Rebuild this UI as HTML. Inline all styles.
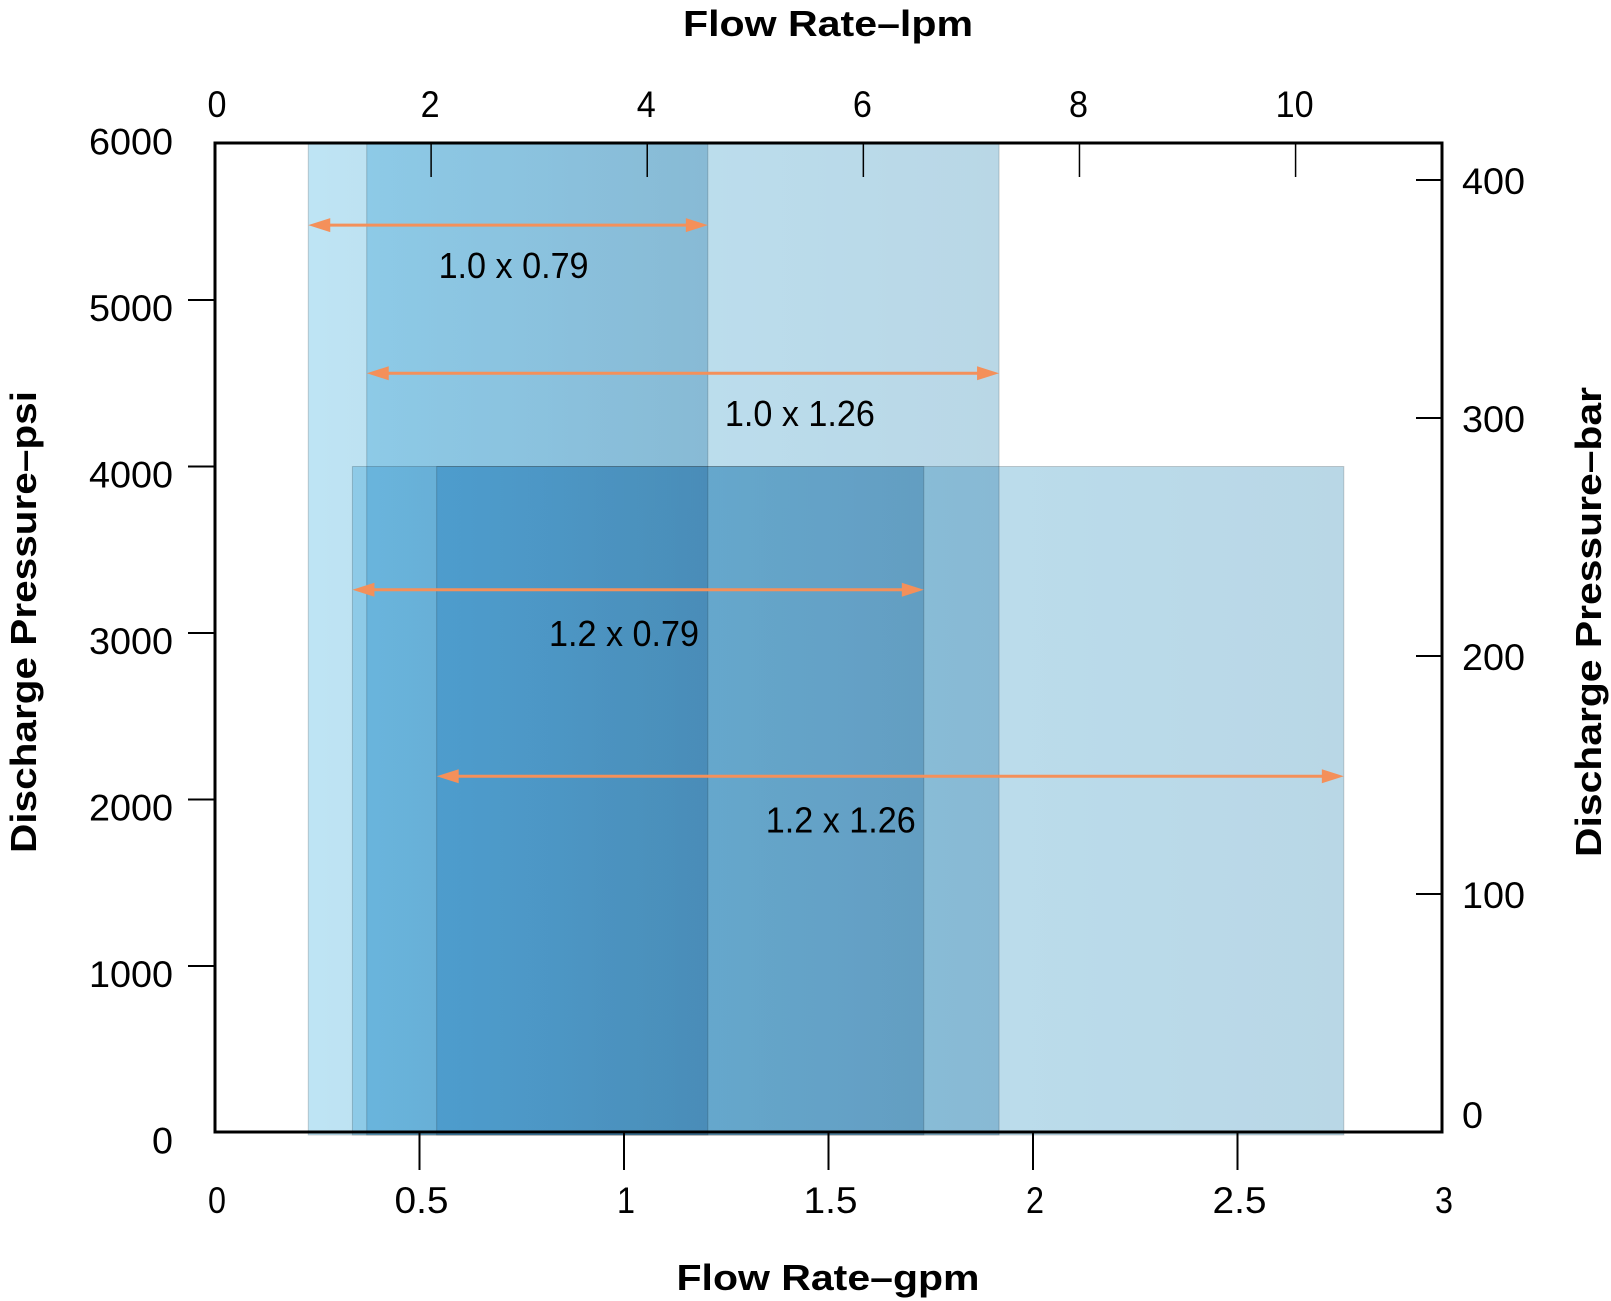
<!DOCTYPE html>
<html><head><meta charset="utf-8"><style>
html,body{margin:0;padding:0;background:#fff;}
svg{display:block;font-family:"Liberation Sans",sans-serif;}
.rect{mix-blend-mode:multiply;}
</style></head><body>
<svg id="chart" width="1611" height="1301" viewBox="0 0 1611 1301">
<defs>
<linearGradient id="fillg" x1="0" y1="0" x2="1" y2="0">
<stop offset="0" stop-color="#bee4f4"/><stop offset="1" stop-color="#b9d7e6"/>
</linearGradient>
</defs>
<g id="rects"></g>
<g id="arrows"></g>
<g id="axes"></g>
</svg>
<script>
const labels = ["1.0 x 0.79","1.0 x 1.26","1.2 x 0.79","1.2 x 1.26"];
const gpmMin = [0.228,0.371,0.336,0.542];
const gpmMax = [1.205,1.917,1.733,2.760];
const psiMax = [6000,6000,4000,4000];
const arrowPsi = [5450,4560,3260,2140];
const labelPsi = [5210,4320,3000,1880];
const labelGpm = [0.73,1.43,1.0,1.53];
const gpmTicks = [0,0.5,1,1.5,2,2.5,3];
const gpmTickLabels = ["0","0.5","1","1.5","2","2.5","3"];
const psiTicks = [0,1000,2000,3000,4000,5000,6000];
const lpmTicks = [0,2,4,6,8,10];
const barTicks = [0,100,200,300,400];

const L=215,R=1442,T=143,B=1132;
const xg = g => L + g*409;
const yp = p => 1132.5 - p*0.1665;
const xl = l => xg(l/3.785);
const yb = b => 1132 - b*2.38;
const NS="http://www.w3.org/2000/svg";
function mk(tag, attrs, parent){const e=document.createElementNS(NS,tag);for(const k in attrs)e.setAttribute(k,attrs[k]);parent.appendChild(e);return e;}
const gr=document.getElementById('rects'), ga=document.getElementById('arrows'), gx=document.getElementById('axes');

labels.forEach((lab,i)=>{
  const x1=xg(gpmMin[i]), x2=xg(gpmMax[i]), yt=Math.max(T,yp(psiMax[i]));
  const r=mk('rect',{x:x1,y:yt,width:x2-x1,height:1135-yt,fill:'url(#fillg)',stroke:'rgba(0,0,0,0.18)','stroke-width':1,class:'rect'},gr);
  
  
  const ya=yp(arrowPsi[i]);
  const ln=mk('line',{x1:x1+10,y1:ya,x2:x2-10,y2:ya,stroke:'#f4905a','stroke-width':3},ga);
  
  
  const h1=mk('polygon',{points:`${x1},${ya} ${x1+22},${ya-7} ${x1+22},${ya+7}`,fill:'#f4905a'},ga);
  
  
  const h2=mk('polygon',{points:`${x2},${ya} ${x2-22},${ya-7} ${x2-22},${ya+7}`,fill:'#f4905a'},ga);
  
  
  const t=mk('text',{x:xg(labelGpm[i]),y:yp(labelPsi[i])+13,'font-size':36,'text-anchor':'middle',textLength:150,lengthAdjust:'spacingAndGlyphs',fill:'#000'},ga);
  t.textContent=lab;
  
  
});

const box=mk('rect',{x:L,y:T,width:R-L,height:B-T,fill:'none',stroke:'#000','stroke-width':3},gx);



gpmTicks.forEach((v,i)=>{
  const x=xg(v);
  if(i>0&&i<gpmTicks.length-1){const tk=mk('line',{x1:x,y1:B,x2:x,y2:1170,stroke:'#000','stroke-width':2},gx);
  
  }
  const t=mk('text',{x:x+2,y:1213,'font-size':37,'text-anchor':'middle',textLength:gpmTickLabels[i].length*18,lengthAdjust:'spacingAndGlyphs'},gx);
  t.textContent=gpmTickLabels[i];
  
  
});
psiTicks.forEach(v=>{
  const y=yp(v);
  if(v>0&&v<6000){const tk=mk('line',{x1:188,y1:y,x2:L,y2:y,stroke:'#000','stroke-width':2},gx);
  
  }
  const t=mk('text',{x:173,y:y+21,'font-size':37,'text-anchor':'end',textLength:String(v).length*21,lengthAdjust:'spacingAndGlyphs'},gx);
  t.textContent=String(v);
  
  
});
lpmTicks.forEach(v=>{
  const x=xl(v);
  if(v>0){const tk=mk('line',{x1:x,y1:T,x2:x,y2:177,stroke:'#000','stroke-width':1.5},gx);
  
  }
  const t=mk('text',{x:x-(v>0?3:0)+2,y:117,'font-size':37,'text-anchor':'middle',textLength:String(v).length*19,lengthAdjust:'spacingAndGlyphs'},gx);
  t.textContent=String(v);
  
  
});
barTicks.forEach(v=>{
  const y=yb(v);
  if(v>0){const tk=mk('line',{x1:1416,y1:y,x2:R,y2:y,stroke:'#000','stroke-width':2},gx);
  
  }
  const t=mk('text',{x:1462,y:(v>0?y+14:1128),'font-size':37,'text-anchor':'start',textLength:String(v).length*21,lengthAdjust:'spacingAndGlyphs'},gx);
  t.textContent=String(v);
  
  
});
</script>
<svg width="0" height="0" style="position:absolute"></svg>
<div style="position:absolute;left:0;top:0;width:1611px;height:1301px;pointer-events:none">
<svg width="1611" height="1301" style="position:absolute;left:0;top:0">
<text x="828" y="36" font-size="36" font-weight="bold" text-anchor="middle" textLength="290" lengthAdjust="spacingAndGlyphs" font-family="Liberation Sans, sans-serif">Flow Rate–lpm</text>
<text x="828" y="1290" font-size="36" font-weight="bold" text-anchor="middle" textLength="303" lengthAdjust="spacingAndGlyphs" font-family="Liberation Sans, sans-serif">Flow Rate–gpm</text>
<text transform="translate(36,622) rotate(-90)" font-size="36" font-weight="bold" text-anchor="middle" textLength="462" lengthAdjust="spacingAndGlyphs" font-family="Liberation Sans, sans-serif">Discharge Pressure–psi</text>
<text transform="translate(1601,622) rotate(-90)" font-size="36" font-weight="bold" text-anchor="middle" textLength="470" lengthAdjust="spacingAndGlyphs" font-family="Liberation Sans, sans-serif">Discharge Pressure–bar</text>
</svg>
</div>
</body></html>
